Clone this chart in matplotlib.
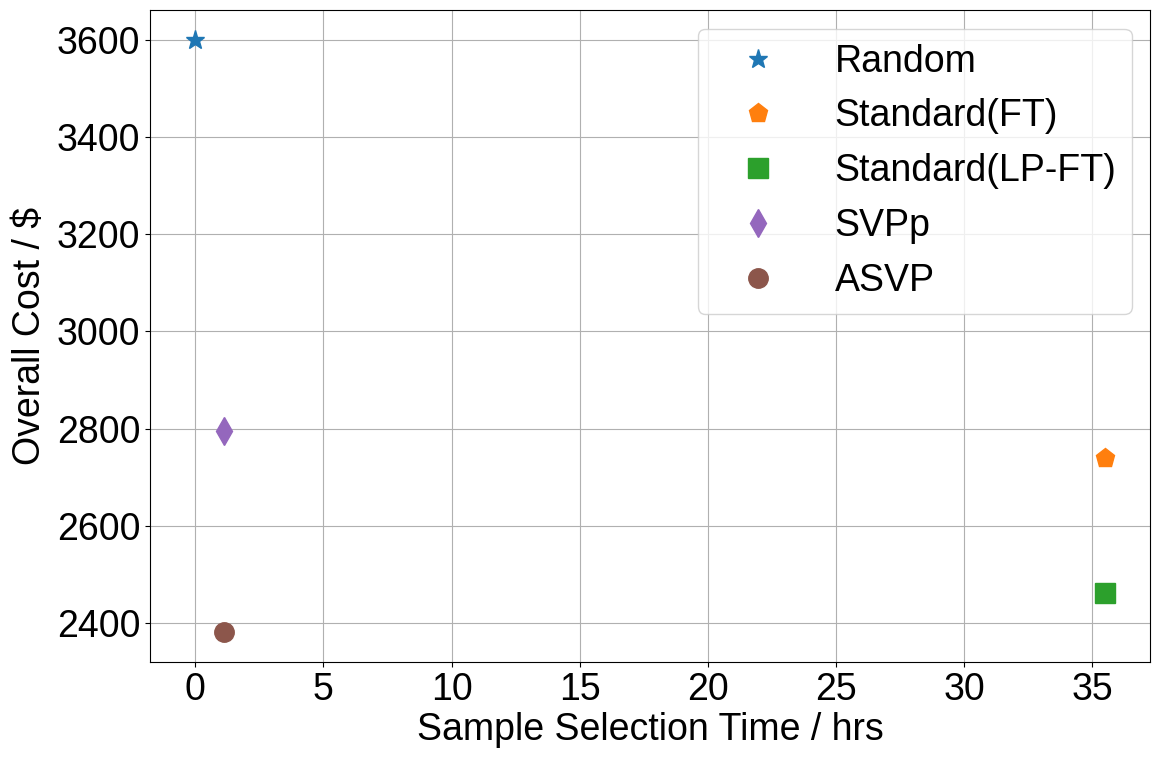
import matplotlib
matplotlib.use("Agg")
import matplotlib.pyplot as plt

plt.rcParams['font.family'] = ['Liberation Sans', 'DejaVu Sans']
plt.rcParams['font.size'] = 27

methods = ['Random', 'Standard(FT)', 'Standard(LP-FT)', 'SVPp', 'ASVP']
sel_time = [0.0, 35.5, 35.5, 1.1, 1.1]
cost = [3600, 2740, 2462, 2795, 2381]
markers = ['*', 'p', 's', 'd', 'o']
colors = ['tab:blue', 'tab:orange', 'tab:green', 'tab:purple', 'tab:brown']

fig = plt.figure(figsize=(11.62, 7.61), dpi=100)
ax = fig.add_axes([0.129, 0.130, 0.861, 0.857])

for m, t, c, mk, col in zip(methods, sel_time, cost, markers, colors):
    ax.plot(t, c, linestyle='none', marker=mk, color=col, markersize=14, label=m)

ax.set_xlabel('Sample Selection Time / hrs', labelpad=3)
ax.set_ylabel('Overall Cost / $', labelpad=6)
ax.grid(True)
ax.set_axisbelow(True)
ax.legend(loc='upper right', handlelength=2.4, handletextpad=0.85)

fig.savefig('out.png', dpi=100)
